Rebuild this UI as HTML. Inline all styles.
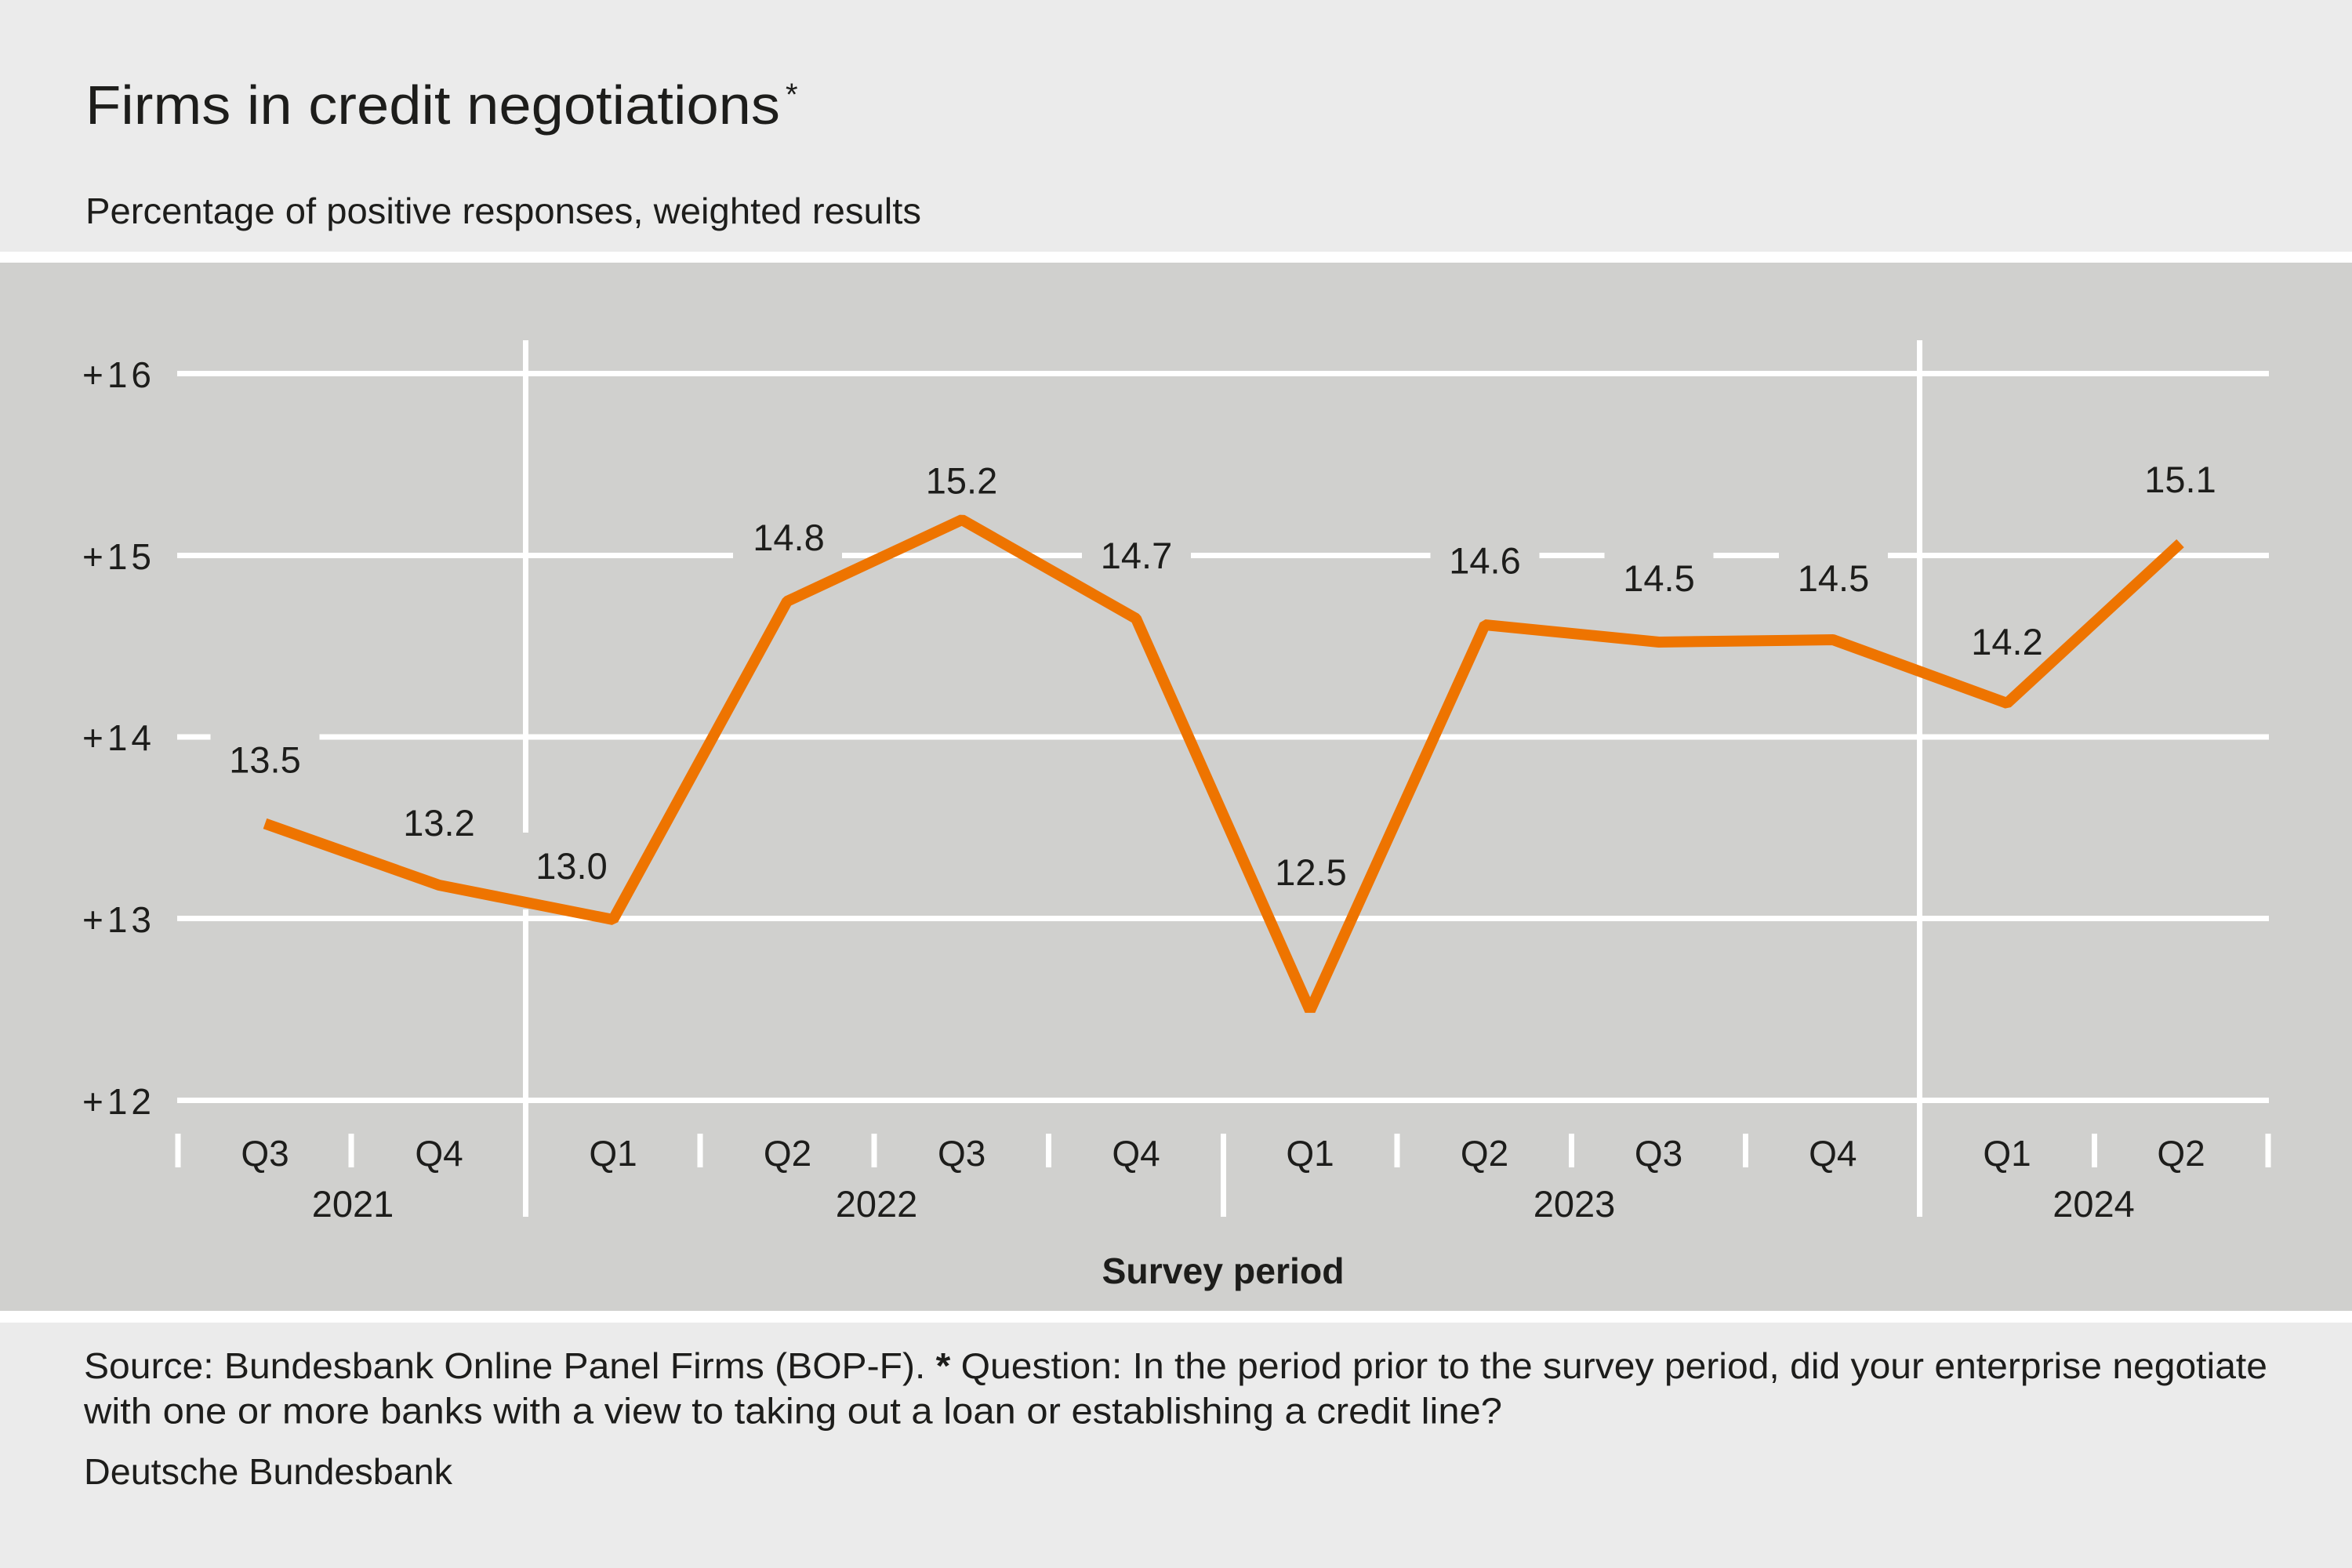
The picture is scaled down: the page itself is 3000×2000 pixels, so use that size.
<!DOCTYPE html>
<html>
<head>
<meta charset="utf-8">
<style>
  html, body { margin: 0; padding: 0; background: #ebebeb; }
  svg { display: block; }
  text { font-family: "Liberation Sans", "DejaVu Sans", sans-serif; fill: #1d1d1b; }
</style>
</head>
<body>
<svg width="3000" height="2000" viewBox="0 0 3000 2000" xmlns="http://www.w3.org/2000/svg">
  <!-- backgrounds -->
  <rect x="0" y="0" width="3000" height="2000" fill="#ebebeb"/>
  <rect x="0" y="321" width="3000" height="14" fill="#ffffff"/>
  <rect x="0" y="335" width="3000" height="1337" fill="#d0d0ce"/>
  <rect x="0" y="1672" width="3000" height="15" fill="#ffffff"/>

  <!-- title -->
  <text x="109" y="158" font-size="70" textLength="886" lengthAdjust="spacingAndGlyphs">Firms in credit negotiations</text>
  <text x="1002" y="134" font-size="40">*</text>
  <text x="109" y="285" font-size="46" textLength="1066" lengthAdjust="spacingAndGlyphs">Percentage of positive responses, weighted results</text>

  <!-- gridlines -->
  <g fill="#ffffff">
    <rect x="226" y="473" width="2668" height="7"/>
    <rect x="226" y="705" width="2668" height="7"/>
    <rect x="226" y="936.5" width="2668" height="7"/>
    <rect x="226" y="1168" width="2668" height="7"/>
    <rect x="226" y="1400" width="2668" height="7"/>
    <!-- year separators -->
    <rect x="667" y="434" width="7" height="1118"/>
    <rect x="2445" y="434" width="7" height="1118"/>
    <rect x="1557" y="1446" width="7" height="106"/>
    <!-- quarter ticks -->
    <rect x="223.5" y="1446" width="7" height="43"/>
    <rect x="444.5" y="1446" width="7" height="43"/>
    <rect x="889.5" y="1446" width="7" height="43"/>
    <rect x="1111.5" y="1446" width="7" height="43"/>
    <rect x="1334" y="1446" width="7" height="43"/>
    <rect x="1778.5" y="1446" width="7" height="43"/>
    <rect x="2001" y="1446" width="7" height="43"/>
    <rect x="2223" y="1446" width="7" height="43"/>
    <rect x="2668" y="1446" width="7" height="43"/>
    <rect x="2889.5" y="1446" width="7" height="43"/>
  </g>

  <!-- label background boxes (knock out gridlines) -->
  <g fill="#d0d0ce">
    <rect x="268.5" y="926.5" width="139" height="98"/>
    <rect x="490.5" y="1007" width="139" height="98"/>
    <rect x="659.5" y="1062" width="139" height="98"/>
    <rect x="935" y="643" width="139" height="98"/>
    <rect x="1157" y="570.5" width="139" height="98"/>
    <rect x="1380" y="666" width="139" height="98"/>
    <rect x="1602.5" y="1070" width="139" height="98"/>
    <rect x="1824.5" y="672.5" width="139" height="98"/>
    <rect x="2046.5" y="695" width="139" height="98"/>
    <rect x="2269" y="695" width="139" height="98"/>
    <rect x="2490.5" y="776" width="139" height="98"/>
    <rect x="2711.5" y="569" width="139" height="98"/>
  </g>

  <!-- data line -->
  <polyline fill="none" stroke="#ee7400" stroke-width="14" stroke-linejoin="bevel" stroke-linecap="butt"
    points="338,1050.5 560,1129 782,1173 1004,767 1227,663 1449,789 1671,1289 1894,797 2116,819 2338,816 2560,897 2781,693"/>

  <!-- data labels -->
  <g font-size="47" text-anchor="middle">
    <text x="338" y="985.5">13.5</text>
    <text x="560" y="1066">13.2</text>
    <text x="729" y="1121">13.0</text>
    <text x="1006" y="702">14.8</text>
    <text x="1226.5" y="629.5">15.2</text>
    <text x="1449.5" y="725">14.7</text>
    <text x="1672" y="1129">12.5</text>
    <text x="1894" y="731.5">14.6</text>
    <text x="2116" y="754">14.5</text>
    <text x="2338.5" y="754">14.5</text>
    <text x="2560" y="835">14.2</text>
    <text x="2781" y="628">15.1</text>
  </g>

  <!-- y-axis labels -->
  <g font-size="46" text-anchor="end">
    <text x="193" y="494" textLength="88" lengthAdjust="spacing">+16</text>
    <text x="193" y="726" textLength="88" lengthAdjust="spacing">+15</text>
    <text x="193" y="957" textLength="88" lengthAdjust="spacing">+14</text>
    <text x="193" y="1189" textLength="88" lengthAdjust="spacing">+13</text>
    <text x="193" y="1421" textLength="88" lengthAdjust="spacing">+12</text>
  </g>

  <!-- x-axis quarter labels -->
  <g font-size="46" text-anchor="middle">
    <text x="338" y="1487">Q3</text>
    <text x="560" y="1487">Q4</text>
    <text x="782" y="1487">Q1</text>
    <text x="1004.5" y="1487">Q2</text>
    <text x="1226.7" y="1487">Q3</text>
    <text x="1449" y="1487">Q4</text>
    <text x="1671" y="1487">Q1</text>
    <text x="1893.5" y="1487">Q2</text>
    <text x="2115.5" y="1487">Q3</text>
    <text x="2337.8" y="1487">Q4</text>
    <text x="2560" y="1487">Q1</text>
    <text x="2782" y="1487">Q2</text>
  </g>
  <g font-size="47" text-anchor="middle">
    <text x="450" y="1552">2021</text>
    <text x="1118" y="1552">2022</text>
    <text x="2008" y="1552">2023</text>
    <text x="2670.5" y="1552">2024</text>
  </g>
  <text x="1560" y="1637" font-size="46" font-weight="bold" text-anchor="middle" textLength="309" lengthAdjust="spacingAndGlyphs">Survey period</text>

  <!-- footer -->
  <text x="107" y="1758" font-size="46" textLength="2785" lengthAdjust="spacingAndGlyphs">Source: Bundesbank Online Panel Firms (BOP-F). <tspan font-weight="bold">*</tspan> Question: In the period prior to the survey period, did your enterprise negotiate</text>
  <text x="107" y="1815.5" font-size="46" textLength="1809" lengthAdjust="spacingAndGlyphs">with one or more banks with a view to taking out a loan or establishing a credit line?</text>
  <text x="107" y="1893" font-size="46" textLength="470" lengthAdjust="spacingAndGlyphs">Deutsche Bundesbank</text>
</svg>
</body>
</html>
